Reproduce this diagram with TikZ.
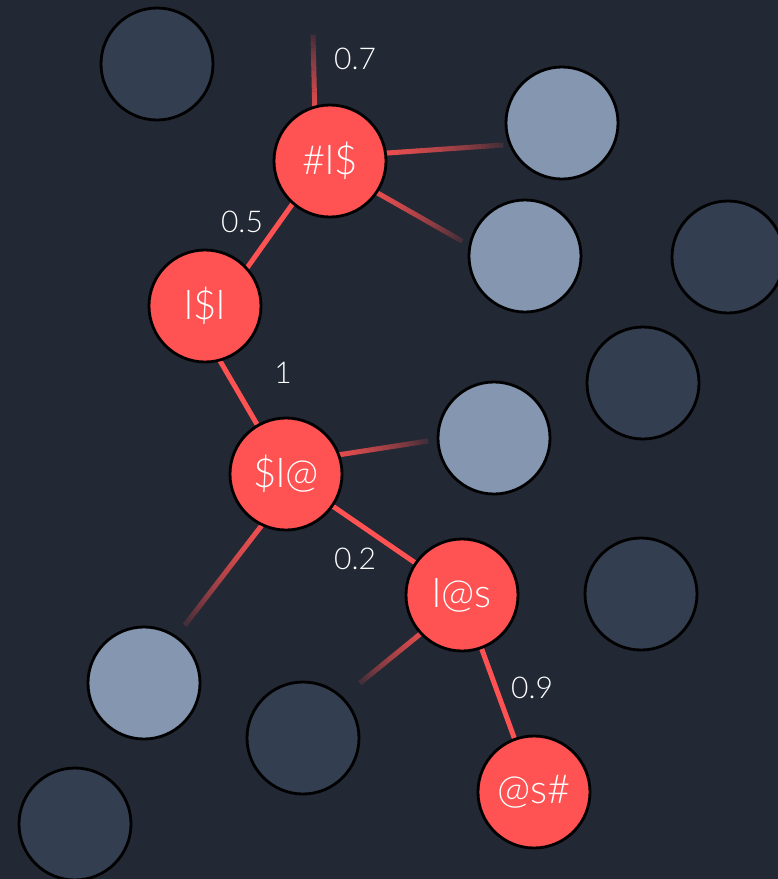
\documentclass[tikz,border=0pt]{standalone}
\usepackage{fontspec}
\IfFontExistsTF{Lato Light}{\setmainfont{Lato Light}}{\setmainfont{Lato}}
\usetikzlibrary{calc}
\definecolor{bg}{HTML}{222834}
\definecolor{darkc}{HTML}{333E50}
\definecolor{lightc}{HTML}{8597B0}
\definecolor{redc}{HTML}{FF5252}
\pgfdeclarelayer{background}
\pgfdeclarelayer{edges}
\pgfsetlayers{background,edges,main}
\tikzset{
  ball/.style={circle, draw=black, line width=2.8pt, minimum size=112pt, inner sep=0pt},
  darkball/.style={ball, fill=darkc},
  lightball/.style={ball, fill=lightc},
  redball/.style={ball, fill=redc, text=white, font=\fontsize{40}{44}\selectfont},
  wlabel/.style={text=white, font=\fontsize{30}{33}\selectfont, inner sep=0pt},
  redge/.style={draw=redc, line width=5pt},
}
\newcommand\fadeedge[2]{%
  \foreach \i in {0,...,39}{%
    \pgfmathsetmacro\ta{\i/40}%
    \pgfmathsetmacro\tb{(\i+1.1)/40}%
    \pgfmathtruncatemacro\pc{100-88*(\i/40)^2}%
    \draw[line width=5pt, draw=redc!\pc!bg] ($(#1)!\ta!(#2)$) -- ($(#1)!\tb!(#2)$);
  }}
\begin{document}
\begin{tikzpicture}[x=1pt, y=-1pt]
\begin{pgfonlayer}{background}
  \fill[bg] (0,0) rectangle (778,879);
\end{pgfonlayer}
\useasboundingbox (0,0) rectangle (778,879);
% dark circles
\node[darkball] (d1) at (157,64) {};
\node[darkball] (d2) at (728,257) {};
\node[darkball] (d3) at (643,383) {};
\node[darkball] (d4) at (641,594) {};
\node[darkball] (d5) at (303,738) {};
\node[darkball] (d6) at (75,824) {};
% light circles
\node[lightball] (l1) at (562,123) {};
\node[lightball] (l2) at (525,256) {};
\node[lightball] (l3) at (494,438) {};
\node[lightball] (l4) at (144,683) {};
% red circles
\node[redball] (hls) at (330,161) {\#l\$};
\node[redball] (lsl) at (205,306) {l\$l};
\node[redball] (sla) at (286,474) {\$l@};
\node[redball] (las) at (462,595) {l@s};
\node[redball] (ash) at (534,792) {@s\#};
% labels
\node[wlabel] (w07) at (355,59) {0.7};
\node[wlabel] (w05) at (242,222) {0.5};
\node[wlabel] (w1) at (283,373) {1};
\node[wlabel] (w02) at (355,559) {0.2};
\node[wlabel] (w09) at (532,688) {0.9};
% free ends of faded edges
\coordinate (f1s) at ($(hls)+(-14,0)$);   \coordinate (f1e) at (313,35);
\coordinate (f2s) at ($(hls)+(0,-4)$);    \coordinate (f2e) at (503,145);
\coordinate (f3s) at ($(hls)+(0,5)$);     \coordinate (f3e) at (462,241);
\coordinate (f4s) at ($(sla)+(0,-11)$);   \coordinate (f4e) at (428,441);
\coordinate (f5s) at ($(sla)+(3,16)$);    \coordinate (f5e) at (185,625);
\coordinate (f6s) at ($(las)+(0,5)$);     \coordinate (f6e) at (360,683);
\begin{pgfonlayer}{edges}
  \fadeedge{f1s}{f1e}
  \fadeedge{f2s}{f2e}
  \fadeedge{f3s}{f3e}
  \fadeedge{f4s}{f4e}
  \fadeedge{f5s}{f5e}
  \fadeedge{f6s}{f6e}
  \draw[redge] ($(hls)+(-7,0)$) -- ($(lsl)+(15,0)$);
  \draw[redge] ($(lsl)+(-17,0)$) -- (sla);
  \draw[redge] (sla) -- (las);
  \draw[redge] (las) -- (ash);
\end{pgfonlayer}
\end{tikzpicture}
\end{document}
